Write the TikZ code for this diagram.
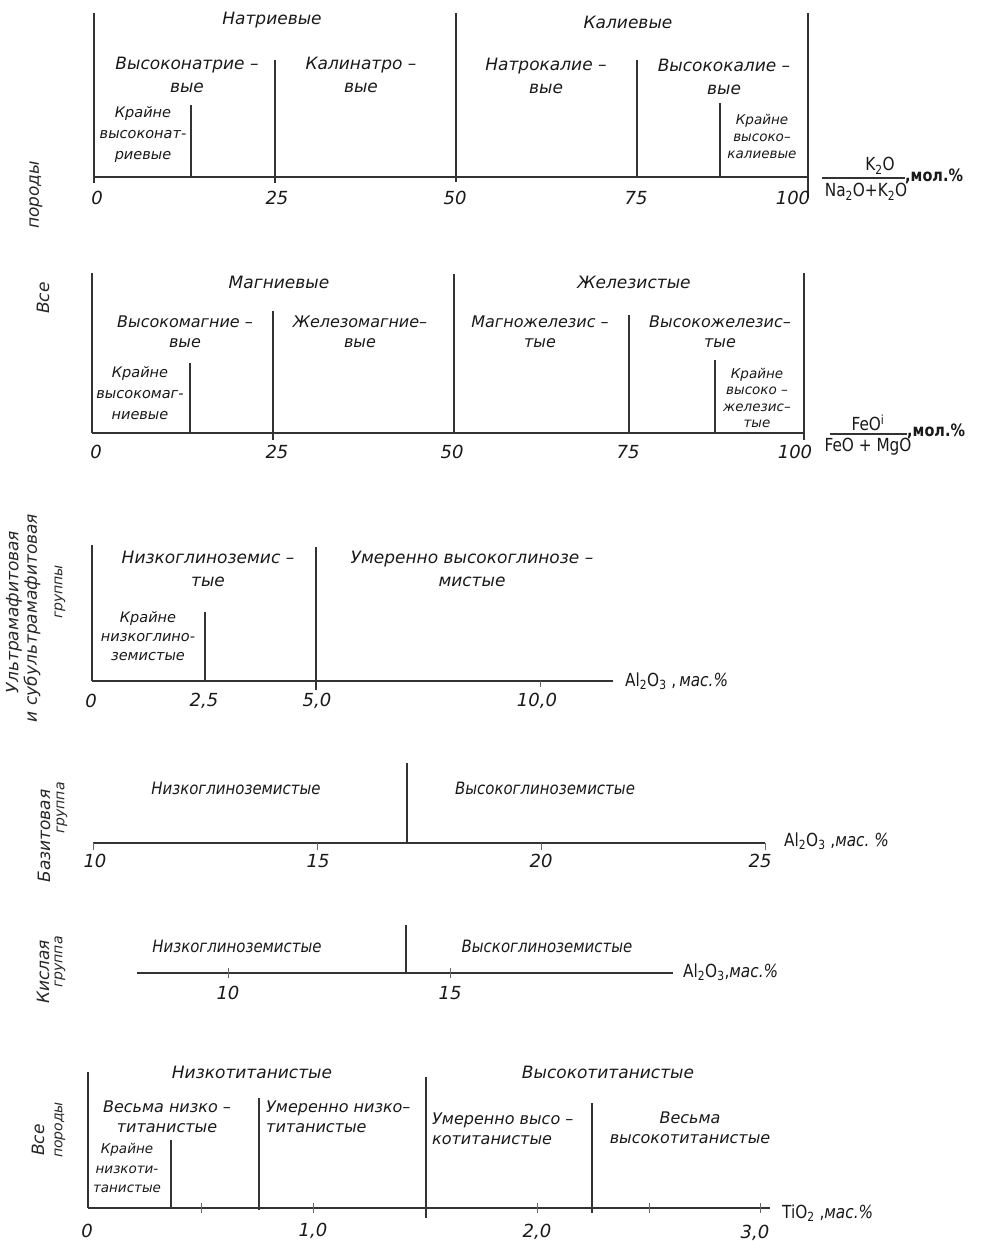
\documentclass[tikz,border=0pt]{standalone}
\usepackage{fontspec}
\setmainfont{DejaVu Sans}
\newfontfamily\df{DejaVu Sans}
\newfontfamily\dfn[FakeStretch=0.88]{DejaVu Sans}
\newfontfamily\chf[FakeStretch=0.85]{DejaVu Sans}
\begin{document}
\begin{tikzpicture}[x=1pt,y=-1pt,
  ln/.style={line width=1.5pt, draw=black!80},
  tk/.style={line width=1pt, draw=black!60},
  L/.style={inner sep=0pt, align=center, text=black!90, font=\df\itshape\fontsize{17}{23}\selectfont},
  L2/.style={inner sep=0pt, align=center, text=black!90, font=\df\itshape\fontsize{16}{20}\selectfont},
  S/.style={inner sep=0pt, align=center, text=black!90, font=\df\itshape\fontsize{14.5}{21}\selectfont},
  S2/.style={inner sep=0pt, align=center, text=black!90, font=\df\itshape\fontsize{13.5}{17}\selectfont},
  M/.style={inner sep=0pt, align=center, text=black!90, font=\dfn\itshape\fontsize{17}{20}\selectfont},
  N/.style={inner sep=0pt, text=black!90, font=\df\itshape\fontsize{18}{20}\selectfont},
  C/.style={inner sep=0pt, text=black!90, font=\chf\fontsize{18}{20}\selectfont},
  Cb/.style={inner sep=0pt, anchor=west, text=black!90, font=\chf\bfseries\fontsize{17}{20}\selectfont},
  R/.style={inner sep=0pt, rotate=90, text=black!85, font=\df\itshape\fontsize{17}{20}\selectfont},
  Rs/.style={inner sep=0pt, rotate=90, text=black!85, font=\df\itshape\fontsize{14}{16}\selectfont},
]
\useasboundingbox (0,0) rectangle (986,1241);

% ================= panel 1 : K2O/(Na2O+K2O)
\draw[ln] (94,13) -- (94,183);
\draw[ln] (94,177) -- (808,177);
\draw[ln] (456,13) -- (456,182);
\draw[ln] (808,13) -- (808,198);
\draw[ln] (275,60) -- (275,183);
\draw[ln] (637,60) -- (637,177);
\draw[ln] (191,105) -- (191,177);
\draw[ln] (720,103) -- (720,177);
\node[L] (na) at (272,20) {Натриевые};
\node[L] (ka) at (628,22) {Калиевые};
\node[L] (vn) at (187,75) {Высоконатрие –\\вые};
\node[L] (kn) at (361,75) {Калинатро –\\вые};
\node[L] (nk) at (546,76) {Натрокалие –\\вые};
\node[L] (vk) at (724,77) {Высококалие –\\вые};
\node[S] (kvn) at (143,135) {Крайне\\высоконат-\\риевые};
\node[S2] (kvk) at (762,136) {Крайне\\высоко–\\калиевые};
\node[N] (t10) at (97,198) {0};
\node[N] (t125) at (277,198) {25};
\node[N] (t150) at (455,198) {50};
\node[N] (t175) at (636,198) {75};
\node[N] (t1100) at (793,198) {100};
\node[C] (k2o) at (880,166) {K\textsubscript{2}O};
\draw[ln,line width=1.2pt] (822,178) -- (905,178);
\node[C] (nak) at (866,192) {Na\textsubscript{2}O+K\textsubscript{2}O};
\node[Cb] (mol1) at (905,176) {,мол.\%};
\node[R] (por1) at (36,195) {породы};
\node[R] (vse1) at (43,298) {Все};

% ================= panel 2 : FeO/(FeO+MgO)
\draw[ln] (92,273) -- (92,433);
\draw[ln] (92,433) -- (805,433);
\draw[ln] (273,311) -- (273,440);
\draw[ln] (454,274) -- (454,433);
\draw[ln] (629,315) -- (629,433);
\draw[ln] (804,273) -- (804,440);
\draw[ln] (190,363) -- (190,433);
\draw[ln] (715,360) -- (715,433);
\node[L] (mg) at (279,282) {Магниевые};
\node[L] (fe) at (634,282) {Железистые};
\node[L2] (vmg) at (185,332) {Высокомагние –\\вые};
\node[L2] (femg) at (360,332) {Железомагние–\\вые};
\node[L2] (mgfe) at (540,332) {Магножелезис –\\тые};
\node[L2] (vfe) at (720,332) {Высокожелезис–\\тые};
\node[S] (kvmg) at (140,393) {Крайне\\высокомаг-\\ниевые};
\node[S2,font=\df\itshape\fontsize{13.5}{16.5}\selectfont] (kvfe) at (757,398) {Крайне\\высоко –\\железис–\\тые};
\node[N] (t20) at (96,452) {0};
\node[N] (t225) at (277,452) {25};
\node[N] (t250) at (452,452) {50};
\node[N] (t275) at (628,452) {75};
\node[N] (t2100) at (795,452) {100};
\node[C] (feo) at (868,423) {FeO\textsuperscript{i}};
\draw[ln,line width=1.2pt] (830,434) -- (907,434);
\node[C] (femgo) at (868,447) {FeO + MgO};
\node[Cb] (mol2) at (907,431) {,мол.\%};

% ================= panel 3 : ultramafic Al2O3
\draw[ln] (92,545) -- (92,681);
\draw[ln] (92,681) -- (613,681);
\draw[ln] (205,612) -- (205,681);
\draw[ln] (316,547) -- (316,690);
\draw[tk] (540,681) -- (540,687);
\node[L] (nz3) at (208,569) {Низкоглиноземис –\\тые};
\node[L] (uv3) at (472,569) {Умеренно высокоглинозе –\\мистые};
\node[S,font=\df\itshape\fontsize{14.5}{19}\selectfont] (kn3) at (148,636) {Крайне\\низкоглино-\\земистые};
\node[N] (t30) at (91,701) {0};
\node[N] (t325) at (204,701) {2,5};
\node[N] (t35) at (317,701) {5,0};
\node[N] (t310) at (537,701) {10,0};
\node[C,anchor=west] (al3) at (625,681) {Al\textsubscript{2}O\textsubscript{3} ,\,\textit{мас.\%}};
\node[R] (ul3) at (14,612) {Ультрамафитовая};
\node[R] (sub3) at (32,618) {и субультрамафитовая};
\node[Rs] (gr3) at (60,592) {группы};

% ================= panel 4 : basite Al2O3
\draw[ln] (93,843) -- (765,843);
\draw[ln] (407,763) -- (407,843);
\foreach \x in {93,317,541,765} \draw[tk] (\x,843) -- (\x,850);
\node[M] (nz4) at (236,788) {Низкоглиноземистые};
\node[M] (vs4) at (545,788) {Высокоглиноземистые};
\node[N] (t410) at (95,861) {10};
\node[N] (t415) at (318,861) {15};
\node[N] (t420) at (541,861) {20};
\node[N] (t425) at (760,861) {25};
\node[C,anchor=west] (al4) at (784,841) {Al\textsubscript{2}O\textsubscript{3} ,\textit{мас.~\%}};
\node[R] (baz) at (44,836) {Базитовая};
\node[Rs] (gr4) at (62,808) {группа};

% ================= panel 5 : acid Al2O3
\draw[ln] (137,973) -- (673,973);
\draw[ln] (406,925) -- (406,973);
\foreach \x in {228,450} \draw[tk] (\x,968) -- (\x,978);
\node[M] (nz5) at (237,946) {Низкоглиноземистые};
\node[M] (vs5) at (547,946) {Выскоглиноземистые};
\node[N] (t510) at (228,993) {10};
\node[N] (t515) at (450,993) {15};
\node[C,anchor=west] (al5) at (683,972) {Al\textsubscript{2}O\textsubscript{3},\textit{мас.\%}};
\node[R] (kis) at (43,972) {Кислая};
\node[Rs] (gr5) at (60,962) {группа};

% ================= panel 6 : TiO2
\draw[ln] (88,1072) -- (88,1208);
\draw[ln] (88,1208) -- (770,1208);
\draw[ln] (171,1140) -- (171,1208);
\draw[ln] (259,1098) -- (259,1210);
\draw[ln] (426,1077) -- (426,1218);
\draw[ln] (592,1103) -- (592,1213);
\foreach \x in {201,313,537,649,760} \draw[tk] (\x,1203) -- (\x,1213);
\node[L] (nt) at (252,1072) {Низкотитанистые};
\node[L] (vt) at (608,1072) {Высокотитанистые};
\node[L2] (vnt) at (167,1117) {Весьма низко –\\титанистые};
\node[L2,align=left,anchor=west] (unt) at (266,1117) {Умеренно низко–\\титанистые};
\node[L2,align=left,anchor=west] (uvt) at (432,1129) {Умеренно высо –\\котитанистые};
\node[L2] (vvt) at (690,1128) {Весьма\\высокотитанистые};
\node[S2,font=\df\itshape\fontsize{13.5}{19.5}\selectfont] (knt) at (127,1168) {Крайне\\низкоти-\\танистые};
\node[N] (t60) at (87,1231) {0};
\node[N] (t61) at (313,1231) {1,0};
\node[N] (t62) at (537,1232) {2,0};
\node[N] (t63) at (755,1233) {3,0};
\node[C,anchor=west] (ti6) at (782,1213) {TiO\textsubscript{2} ,\textit{мас.\%}};
\node[R] (vse6) at (38,1140) {Все};
\node[Rs] (por6) at (60,1130) {породы};
\end{tikzpicture}
\end{document}
